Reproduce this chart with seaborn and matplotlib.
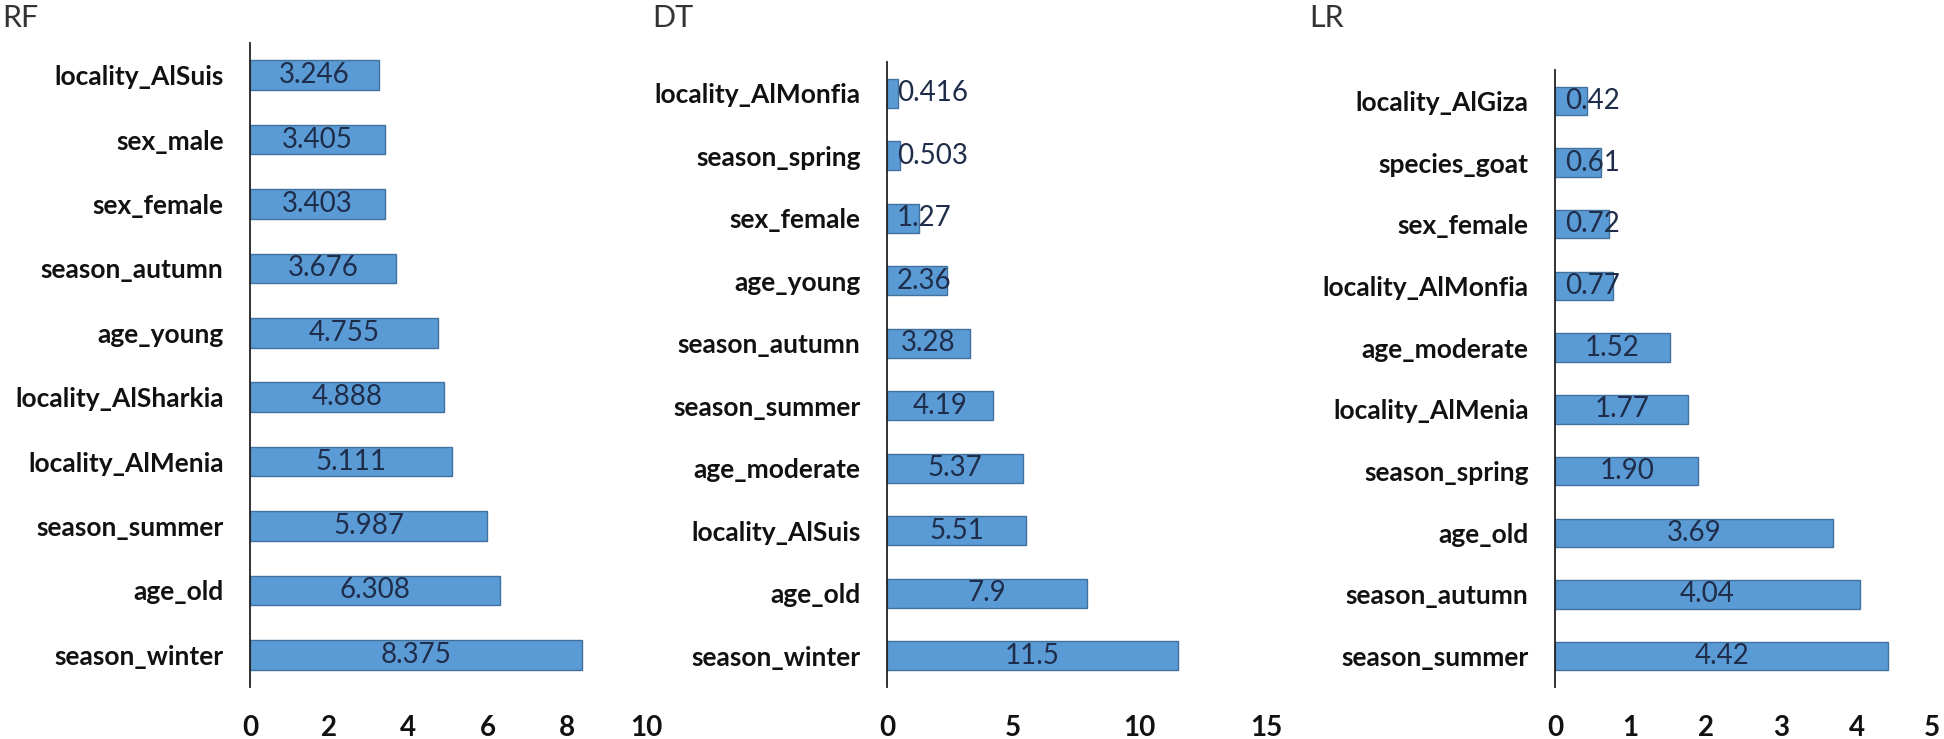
import numpy as np
import matplotlib
matplotlib.use('Agg')
import matplotlib.pyplot as plt
import seaborn as sns

# RF feature importance
rf_feats = ['locality_AlSuis', 'sex_male', 'sex_female', 'season_autumn', 'age_young',
            'locality_AlSharkia', 'locality_AlMenia', 'season_summer', 'age_old', 'season_winter']
rf_vals = [3.246, 3.405, 3.403, 3.676, 4.755, 4.888, 5.111, 5.987, 6.308, 8.375]

# DT feature importance
dt_feats = ['locality_AlMonfia', 'season_spring', 'sex_female', 'age_young', 'season_autumn',
            'season_summer', 'age_moderate', 'locality_AlSuis', 'age_old', 'season_winter']
dt_vals = [0.416, 0.503, 1.27, 2.36, 3.28, 4.19, 5.37, 5.51, 7.9, 11.5]

# LR feature importance
lr_feats = ['locality_AlGiza', 'species_goat', 'sex_female', 'locality_AlMonfia', 'age_moderate',
            'locality_AlMenia', 'season_spring', 'age_old', 'season_autumn', 'season_summer']
lr_vals = [0.42, 0.61, 0.72, 0.77, 1.52, 1.77, 1.90, 3.69, 4.04, 4.42]

titles = ['RF', 'DT', 'LR']
xmax = [10, 15, 5]
xstep = [2, 5, 1]
fmts = ['{:.3f}', '{:.3g}', '{:.2f}']

sns.set_style('white')
plt.rcParams['font.family'] = ['Lato', 'DejaVu Sans']

bar_color = '#5B9BD5'
edge_color = '#41719C'
label_color = '#1F2D4A'

W, H = 1944, 739
fig = plt.figure(figsize=(W / 100, H / 100), dpi=100)

# axes boxes in pixels: left, right(at xmax), top, bottom
boxes = [(250, 646, 43, 687), (887, 1266, 62, 687), (1555, 1932, 70, 687)]
title_x = [2, 652, 1309]

data = [(rf_feats, rf_vals), (dt_feats, dt_vals), (lr_feats, lr_vals)]
axes = []
for k, (feats, vals) in enumerate(data):
    l, r, t, b = boxes[k]
    ax = fig.add_axes([l / W, (H - b) / H, (r - l) / W, (b - t) / H])
    sns.barplot(x=vals, y=feats, orient='h', color=bar_color, edgecolor=edge_color,
                linewidth=1, width=0.46, saturation=1, ax=ax)
    ax.set_xlim(0, xmax[k])
    ax.set_ylim(len(feats) - 0.5, -0.5)
    ax.set_xticks(np.arange(0, xmax[k] + 0.1, xstep[k]))
    ax.set_xlabel('')
    ax.set_ylabel('')
    for s in ['top', 'right', 'bottom']:
        ax.spines[s].set_visible(False)
    ax.spines['left'].set_color('#222222')
    ax.spines['left'].set_linewidth(1.3)
    ax.tick_params(axis='y', length=0, pad=19, labelsize=19)
    ax.tick_params(axis='x', length=0, pad=20, labelsize=20)
    for lab in ax.get_yticklabels() + ax.get_xticklabels():
        lab.set_fontweight('bold')
        lab.set_color('#111111')
    fig.text(title_x[k] / W, 1 - 18 / H, titles[k], fontsize=22, va='center', ha='left', color='#333333')
    axes.append(ax)

fig.canvas.draw()
rend = fig.canvas.get_renderer()
for k, (feats, vals) in enumerate(data):
    ax = axes[k]
    for i, v in enumerate(vals):
        txt = ax.annotate(fmts[k].format(v), xy=(v / 2, i), xytext=(0, 0), textcoords='offset points',
                          ha='center', va='center', fontsize=20, color=label_color)
        bb = txt.get_window_extent(rend)
        x0 = ax.transData.transform((0, i))[0]
        if bb.x0 < x0 + 10:
            txt.xy = (0, i)
            txt.set_position((7.2, 0))
            txt.set_ha('left')

fig.savefig('out.png', dpi=100)
